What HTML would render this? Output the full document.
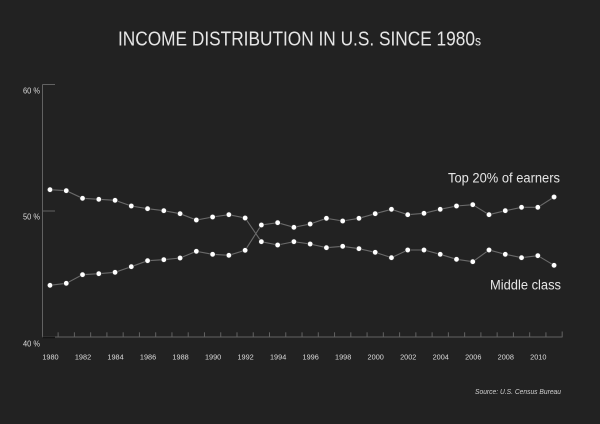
<!DOCTYPE html>
<html><head><meta charset="utf-8"><style>
html,body{margin:0;padding:0;background:#222222;}
svg{display:block;}
</style></head><body>
<svg width="600" height="424" viewBox="0 0 600 424" xmlns="http://www.w3.org/2000/svg">
<rect width="600" height="424" fill="#222222"/>
<text x="118" y="45.7" font-family="Liberation Sans, sans-serif" font-size="20" fill="#e6e6e6" textLength="363" lengthAdjust="spacingAndGlyphs">INCOME DISTRIBUTION IN U.S. SINCE 1980<tspan font-size="14">s</tspan></text>
<g stroke="#626262" stroke-width="1" fill="none">
<line x1="42.5" y1="84.5" x2="42.5" y2="337.5"/>
<line x1="42.5" y1="337" x2="562.5" y2="337"/>
<line x1="42.5" y1="84.5" x2="55" y2="84.5"/>
<line x1="42.5" y1="211" x2="55" y2="211"/>
<line x1="42.5" y1="337.5" x2="55" y2="337.5" stroke="#151515" stroke-width="1.5"/>
</g>
<g id="tk" stroke="#626262" stroke-width="1"></g>
<g font-family="Liberation Sans, sans-serif" font-size="8.5" fill="#dcdcdc" text-anchor="end">
<text x="40" y="93.3" textLength="17" lengthAdjust="spacingAndGlyphs">60 %</text>
<text x="40" y="219.5" textLength="17" lengthAdjust="spacingAndGlyphs">50 %</text>
<text x="40" y="346.7" textLength="17" lengthAdjust="spacingAndGlyphs">40 %</text>
</g>
<g id="yl" font-family="Liberation Sans, sans-serif" font-size="7.6" fill="#dcdcdc" text-anchor="middle"></g>
<polyline id="sA" fill="none" stroke="#6a6a6a" stroke-width="1.1" points=""/>
<polyline id="sB" fill="none" stroke="#6a6a6a" stroke-width="1.1" points=""/>
<g id="dots" fill="#ffffff" stroke="#333" stroke-width="0.6"></g>
<text x="560" y="182.7" font-family="Liberation Sans, sans-serif" font-size="13.5" fill="#e6e6e6" text-anchor="end" textLength="112" lengthAdjust="spacingAndGlyphs">Top 20% of earners</text>
<text x="561" y="289.3" font-family="Liberation Sans, sans-serif" font-size="13.5" fill="#e6e6e6" text-anchor="end" textLength="71" lengthAdjust="spacingAndGlyphs">Middle class</text>
<text x="561" y="394" font-family="Liberation Sans, sans-serif" font-size="7" font-style="italic" fill="#d0d0d0" text-anchor="end" textLength="86" lengthAdjust="spacingAndGlyphs">Source: U.S. Census Bureau</text>
</svg>
<script>
(function(){
var NS="http://www.w3.org/2000/svg";
var A=[189.7,190.7,198.3,199.3,200.3,206,208.7,210.7,213.7,220,217,214.7,218,241.7,245,241.7,244,247.7,246.3,248.7,252.3,257.7,250,250,254.3,259.3,261.7,250,254.3,257.7,255.7,265.3];
var B=[285.3,283.3,274.7,273.7,272.3,266.7,260.7,259.7,258,251.3,254.3,255.3,250.3,225,222.7,227.3,224,218.3,221,218.3,213.7,209.3,214.7,213.3,209.3,206,204.7,214.7,210.7,207.3,207.3,197];
var step=16.26,x0=50;
function X(i){return x0+step*i;}
var pa=[],pb=[];
for(var i=0;i<32;i++){pa.push(X(i).toFixed(2)+","+A[i]);pb.push(X(i).toFixed(2)+","+B[i]);}
document.getElementById("sA").setAttribute("points",pa.join(" "));
document.getElementById("sB").setAttribute("points",pb.join(" "));
var dots=document.getElementById("dots");
for(var i=0;i<32;i++){
 [A[i],B[i]].forEach(function(y){var c=document.createElementNS(NS,"circle");c.setAttribute("cx",X(i));c.setAttribute("cy",y);c.setAttribute("r","2.7");dots.appendChild(c);});
}
var tk=document.getElementById("tk");
for(var i=0;i<32;i++){
 var x=X(i+0.5);var l=document.createElementNS(NS,"line");
 l.setAttribute("x1",x);l.setAttribute("x2",x);l.setAttribute("y1",i==31?331.5:332.3);l.setAttribute("y2","337");tk.appendChild(l);
}
var yl=document.getElementById("yl");
for(var i=0;i<32;i+=2){
 var t=document.createElementNS(NS,"text");t.setAttribute("x",X(i)+0.5);t.setAttribute("y","359.3");
 t.setAttribute("textLength","16.3");t.setAttribute("lengthAdjust","spacingAndGlyphs");
 t.textContent=String(1980+i);yl.appendChild(t);
}
})();
</script>
</body></html>
